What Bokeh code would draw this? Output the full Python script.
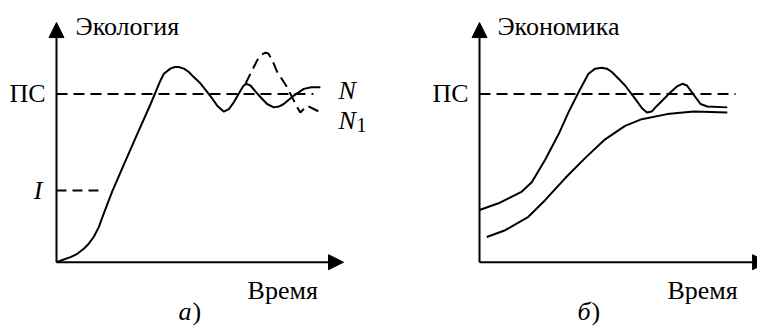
from bokeh.plotting import figure
from bokeh.layouts import row
from bokeh.models import Range1d, Arrow, NormalHead
from bokeh.core.properties import value
from bokeh.embed import file_html
from bokeh.resources import INLINE

# ---- data (time units on x, level relative to ПС on y) ----
ps_level = 1.0
i_level = 0.426

# panel а) Экология
eco_n_x = [0.0, 0.28, 0.54, 0.80, 1.05, 1.24, 1.43, 1.63, 1.82, 2.14, 2.59, 3.10, 3.62, 4.00, 4.13,
           4.38, 4.55, 4.70, 4.90, 5.09, 5.28, 5.55, 5.80, 6.00, 6.18, 6.43, 6.63, 6.82, 7.08, 7.20,
           7.30, 7.46, 7.65, 7.85, 8.10, 8.36, 8.55, 8.74, 9.13, 9.51, 9.80, 10.15]
eco_n_y = [0.0, 0.016, 0.03, 0.05, 0.08, 0.11, 0.15, 0.21, 0.29, 0.42, 0.58, 0.76, 0.94, 1.08, 1.12,
           1.15, 1.16, 1.16, 1.15, 1.13, 1.10, 1.06, 1.01, 0.97, 0.93, 0.895, 0.91, 0.95, 1.02, 1.05,
           1.06, 1.05, 1.015, 0.98, 0.94, 0.92, 0.925, 0.94, 0.99, 1.03, 1.04, 1.04]
eco_n1_x = [7.27, 7.46, 7.72, 7.90, 8.04, 8.15, 8.30, 8.49, 8.87, 9.13, 9.26, 9.38, 9.51, 9.64,
            10.03, 10.22]
eco_n1_y = [1.06, 1.12, 1.20, 1.235, 1.245, 1.24, 1.20, 1.13, 1.04, 0.96, 0.92, 0.89, 0.91, 0.93,
            0.90, 0.885]

# panel б) Экономика
econ_up_x = [0.0, 0.73, 1.63, 2.01, 2.53, 3.04, 3.42, 3.81, 4.19, 4.45, 4.70, 4.90, 5.09, 5.35,
             5.60, 5.99, 6.25, 6.44, 6.62, 6.83, 7.35, 7.60, 7.80, 7.98, 8.12, 8.50, 8.76, 9.53]
econ_up_y = [0.31, 0.35, 0.42, 0.475, 0.61, 0.76, 0.89, 1.01, 1.12, 1.15, 1.155, 1.15, 1.13, 1.09,
             1.05, 0.97, 0.915, 0.89, 0.895, 0.93, 1.01, 1.045, 1.06, 1.05, 1.02, 0.94, 0.925, 0.92]
econ_lo_x = [0.28, 0.99, 1.88, 2.53, 3.30, 4.07, 4.83, 5.60, 6.24, 7.22, 8.24, 9.53]
econ_lo_y = [0.15, 0.19, 0.27, 0.37, 0.50, 0.62, 0.73, 0.81, 0.85, 0.88, 0.895, 0.89]

FONT = "'Liberation Serif'"
FS = "26px"
BLACK = "black"
Y0, Y1 = -0.376, 1.555


def make_panel(width, x0, x1, y_top, x_tip, ps_end):
    p = figure(width=width, height=325, x_range=Range1d(x0, x1), y_range=Range1d(Y0, Y1),
               min_border=0, toolbar_location=None, output_backend="svg",
               x_axis_location=None, y_axis_location=None)
    p.outline_line_color = None
    p.xgrid.visible = False
    p.ygrid.visible = False
    p.background_fill_color = "white"
    p.border_fill_color = "white"
    p.add_layout(Arrow(end=NormalHead(size=15, fill_color=BLACK, line_color=BLACK, line_width=1),
                       x_start=0, y_start=0, x_end=0, y_end=y_top, line_width=2, line_color=BLACK))
    p.add_layout(Arrow(end=NormalHead(size=15, fill_color=BLACK, line_color=BLACK, line_width=1),
                       x_start=0, y_start=0, x_end=x_tip, y_end=0, line_width=2, line_color=BLACK))
    p.line([0, ps_end], [ps_level, ps_level], line_color=BLACK, line_width=2, line_dash="11 6")
    p.text(x=[-0.42], y=[ps_level], text=["ПС"], text_font=value(FONT), text_font_size=FS,
           text_align="right", text_baseline="middle", text_color=BLACK)
    return p


p1 = make_panel(378, -2.154, 12.385, 1.424, 11.04, 9.88)
p1.line([0, 1.85], [i_level, i_level], line_color=BLACK, line_width=2, line_dash="10 6")
p1.text(x=[-0.54], y=[i_level], text=["I"], text_font=value(FONT), text_font_size=FS,
        text_font_style="italic", text_align="right", text_baseline="middle", text_color=BLACK)
p1.line(eco_n1_x, eco_n1_y, line_color=BLACK, line_width=2, line_dash="11 6")
p1.line(eco_n_x, eco_n_y, line_color=BLACK, line_width=2, line_join="round")
p1.text(x=[0.73], y=[1.40], text=["Экология"], text_font=value(FONT), text_font_size=FS,
        text_align="left", text_baseline="alphabetic", text_color=BLACK)
p1.text(x=[7.35], y=[-0.168], text=["Время"], text_font=value(FONT), text_font_size=FS,
        text_align="left", text_baseline="alphabetic", text_color=BLACK)
p1.text(x=[4.69], y=[-0.29], text=["а"], text_font=value(FONT), text_font_size=FS,
        text_font_style="italic", text_align="left", text_baseline="alphabetic", text_color=BLACK)
p1.text(x=[4.69], y=[-0.29], text=[")"], x_offset=14, text_font=value(FONT), text_font_size=FS,
        text_align="left", text_baseline="alphabetic", text_color=BLACK)
p1.text(x=[10.85], y=[1.02], text=["N"], text_font=value(FONT), text_font_size=FS,
        text_font_style="italic", text_align="left", text_baseline="middle", text_color=BLACK)
p1.text(x=[10.85], y=[0.84], text=["N"], text_font=value(FONT), text_font_size=FS,
        text_font_style="italic", text_align="left", text_baseline="middle", text_color=BLACK)
p1.text(x=[10.85], y=[0.84], text=["1"], x_offset=18, y_offset=4, text_font=value(FONT),
        text_font_size="20px", text_align="left", text_baseline="middle", text_color=BLACK)

p2 = make_panel(379, -3.885, 10.692, 1.424, 11.08, 9.85)
p2.line(econ_up_x, econ_up_y, line_color=BLACK, line_width=2, line_join="round")
p2.line(econ_lo_x, econ_lo_y, line_color=BLACK, line_width=2, line_join="round")
p2.text(x=[0.69], y=[1.40], text=["Экономика"], text_font=value(FONT), text_font_size=FS,
        text_align="left", text_baseline="alphabetic", text_color=BLACK)
p2.text(x=[7.23], y=[-0.168], text=["Время"], text_font=value(FONT), text_font_size=FS,
        text_align="left", text_baseline="alphabetic", text_color=BLACK)
p2.text(x=[3.77], y=[-0.29], text=["б"], text_font=value(FONT), text_font_size=FS,
        text_font_style="italic", text_align="left", text_baseline="alphabetic", text_color=BLACK)
p2.text(x=[3.77], y=[-0.29], text=[")"], x_offset=14, text_font=value(FONT), text_font_size=FS,
        text_align="left", text_baseline="alphabetic", text_color=BLACK)

layout = row(p1, p2, spacing=0)
open("out.html", "w").write(file_html(layout, INLINE))
